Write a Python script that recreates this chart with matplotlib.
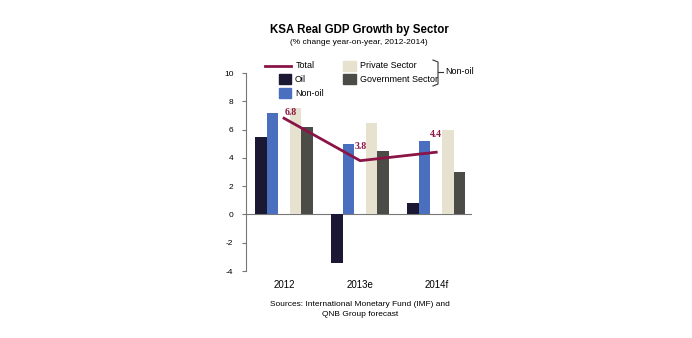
import numpy as np
import matplotlib.pyplot as plt
from matplotlib.patches import Rectangle
from matplotlib.lines import Line2D

plt.rcParams['font.family'] = ['Liberation Sans', 'DejaVu Sans']
plt.rcParams['axes.unicode_minus'] = False

years = ['2012', '2013e', '2014f']
oil = [5.5, -3.4, 0.8]
non_oil = [7.2, 5.0, 5.2]
private = [7.5, 6.5, 6.0]
government = [6.2, 4.5, 3.0]
total = [6.8, 3.8, 4.4]

c_oil = '#1b1833'
c_nonoil = '#4a6fbf'
c_private = '#e7e2cf'
c_gov = '#4b4b48'
c_total = '#8a1446'

W, H = 692, 338
fig = plt.figure(figsize=(W / 100, H / 100), dpi=100)
ax = fig.add_axes([246 / W, 1 - 271 / H, (472 - 246) / W, (271 - 73) / H])

x = np.arange(len(years))
bw = 0.152
ax.bar(x - 2 * bw, oil, bw, color=c_oil, zorder=2)
ax.bar(x - 1 * bw, non_oil, bw, color=c_nonoil, zorder=2)
ax.bar(x + 1 * bw, private, bw, color=c_private, zorder=2)
ax.bar(x + 2 * bw, government, bw, color=c_gov, zorder=2)
ax.plot(x, total, color=c_total, lw=2, zorder=3)

# value labels, nudged in pixels (converted to points)
offsets = [(1, 1, 'left'), (1, 10, 'center'), (0, 13, 'center')]
for xi, v, (dx, dy, ha) in zip(x, total, offsets):
    ax.annotate(f'{v:.1f}', (xi, v), xytext=(dx * 0.72, dy * 0.72), textcoords='offset points',
                ha=ha, va='bottom', color=c_total, fontsize=7, fontweight='bold',
                family='Liberation Serif', zorder=4)

ax.set_xlim(-0.5, 2.47)
ax.set_ylim(-4, 10)
ax.set_yticks(range(-4, 11, 2))
ax.set_xticks([])
ax.axhline(0, color='#777777', lw=0.8, zorder=1)
for s in ['top', 'right', 'bottom']:
    ax.spines[s].set_visible(False)
ax.spines['left'].set_color('#777777')
ax.spines['left'].set_linewidth(0.8)
ax.tick_params(axis='y', labelsize=6, length=3, width=0.8, color='#777777', pad=6)
for xi, lab in zip(x, years):
    ax.text(xi, -5.0, lab, ha='center', va='center', fontsize=7)

fig.text(359 / W, 1 - 30 / H, 'KSA Real GDP Growth by Sector', ha='center', va='center',
         fontsize=8.3, fontweight='bold')
fig.text(359 / W, 1 - 43 / H, '(% change year-on-year, 2012-2014)', ha='center', va='center',
         fontsize=6)
fig.text(360 / W, 1 - 305 / H, 'Sources: International Monetary Fund (IMF) and', ha='center',
         va='center', fontsize=6)
fig.text(360 / W, 1 - 314 / H, 'QNB Group forecast', ha='center', va='center', fontsize=6)

# legend drawn by hand in pixel positions
def px(xp, yp):
    return xp / W, 1 - yp / H

fig.add_artist(Line2D([265 / W, 291 / W], [1 - 66 / H, 1 - 66 / H], color=c_total, lw=2))
fig.text(*px(296, 66), 'Total', va='center', fontsize=6.5)
for yp, col, lab in [(79, c_oil, 'Oil'), (93, c_nonoil, 'Non-oil')]:
    fig.add_artist(Rectangle(px(279, yp + 5), 12 / W, 10 / H, color=col))
    fig.text(*px(295, yp), lab, va='center', fontsize=6.5)
for yp, col, lab in [(66, c_private, 'Private Sector'), (79, c_gov, 'Government Sector')]:
    fig.add_artist(Rectangle(px(343, yp + 5), 13 / W, 10 / H, color=col))
    fig.text(*px(360, yp), lab, va='center', fontsize=6.5)
fig.add_artist(Line2D([433 / W, 438 / W, 438 / W, 433 / W],
                      [1 - 60 / H, 1 - 62 / H, 1 - 84 / H, 1 - 86 / H], color='#333333', lw=0.8))
fig.add_artist(Line2D([438 / W, 443 / W], [1 - 72 / H, 1 - 72 / H], color='#333333', lw=0.8))
fig.text(*px(445, 71), 'Non-oil', va='center', fontsize=6.5)

fig.savefig('out.png', dpi=100)
